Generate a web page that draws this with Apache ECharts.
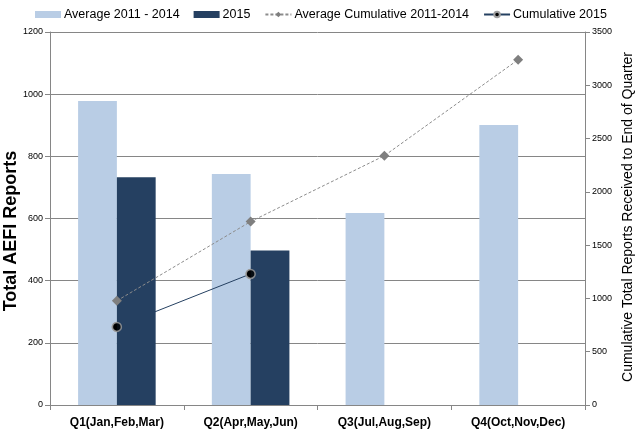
<!DOCTYPE html>
<html><head><meta charset="utf-8">
<script src="https://cdn.jsdelivr.net/npm/echarts@6/dist/echarts.min.js"></script>
<style>html,body{margin:0;padding:0;background:#fff}#c{width:638px;height:429px}</style>
</head><body><div id="c"></div>
<script>
var categories = ['Q1(Jan,Feb,Mar)', 'Q2(Apr,May,Jun)', 'Q3(Jul,Aug,Sep)', 'Q4(Oct,Nov,Dec)'];
var avg20112014 = [978, 743, 618, 901];
var y2015 = [733, 497, null, null];
var avgCumulative = [978, 1721, 2339, 3240];
var cumulative2015 = [733, 1230, null, null];
var leftTicks = [0, 200, 400, 600, 800, 1000, 1200];
var rightTicks = [0, 500, 1000, 1500, 2000, 2500, 3000, 3500];

var chart = echarts.init(document.getElementById('c'));
var font = "'Liberation Sans', Arial, sans-serif";
var axisGray = '#868686';
chart.setOption({
  animation: false,
  legend: {
    top: 3, left: 30, itemGap: 14, itemWidth: 26, itemHeight: 7,
    textStyle: { fontFamily: font, fontSize: 12.5, color: '#000', padding: [0, 0, 0, -2] },
    data: [
      { name: 'Average 2011 - 2014', icon: 'rect' },
      { name: '2015', icon: 'rect' },
      { name: 'Average Cumulative 2011-2014' },
      { name: 'Cumulative 2015' }
    ]
  },
  grid: { left: 50, right: 53, top: 32, bottom: 23, containLabel: false },
  xAxis: {
    type: 'category', data: categories,
    axisLine: { lineStyle: { color: axisGray } },
    axisTick: { show: true, length: 5, lineStyle: { color: axisGray } },
    axisLabel: { fontFamily: font, fontSize: 12, fontWeight: 'bold', color: '#000', margin: 12 }
  },
  yAxis: [{
    type: 'value', min: 0, max: 1200, interval: 200,
    axisLine: { show: true, lineStyle: { color: axisGray } },
    axisTick: { show: true, length: 5, lineStyle: { color: axisGray } },
    axisLabel: { fontSize: 9, color: '#000', margin: 7,
      formatter: function (v) { return leftTicks.indexOf(v) >= 0 ? String(v) : ''; } },
    splitLine: { lineStyle: { color: axisGray, width: 1 } }
  }, {
    type: 'value', min: 0, max: 3500, interval: 500, position: 'right',
    axisLine: { show: true, lineStyle: { color: axisGray } },
    axisTick: { show: true, length: 5, lineStyle: { color: axisGray } },
    axisLabel: { fontSize: 9, color: '#000', margin: 7,
      formatter: function (v) { return rightTicks.indexOf(v) >= 0 ? String(v) : ''; } },
    splitLine: { show: false }
  }],
  series: [
    { name: 'Average 2011 - 2014', type: 'bar', data: avg20112014, barWidth: '29%', barGap: '0%', z: 1,
      itemStyle: { color: '#B9CDE5' } },
    { name: 'Cumulative 2015', type: 'line', yAxisIndex: 1, data: cumulative2015, z: 2,
      lineStyle: { color: '#254061', width: 1 }, symbol: 'circle', symbolSize: 9,
      itemStyle: { color: '#000', borderColor: '#a0a0a0', borderWidth: 1.5 } },
    { name: '2015', type: 'bar', data: y2015, barWidth: '29%', barGap: '0%', z: 3,
      itemStyle: { color: '#254061' } },
    { name: 'Average Cumulative 2011-2014', type: 'line', yAxisIndex: 1, data: avgCumulative, z: 4,
      lineStyle: { color: '#8c8c8c', width: 1, type: [3, 2] }, symbol: 'diamond', symbolSize: 10,
      itemStyle: { color: '#7f7f7f' } },
    { name: 'Cumulative 2015 markers', type: 'scatter', yAxisIndex: 1, data: cumulative2015, z: 5,
      symbol: 'circle', symbolSize: 9,
      itemStyle: { color: '#000', borderColor: '#a0a0a0', borderWidth: 1.5 } }
  ],
  graphic: [
    { type: 'text', x: 11, y: 231, rotation: Math.PI / 2,
      style: { text: 'Total AEFI Reports', fontFamily: font, fontSize: 18, fontWeight: 'bold',
        fill: '#000', align: 'center', verticalAlign: 'middle' } },
    { type: 'text', x: 628, y: 217, rotation: Math.PI / 2,
      style: { text: 'Cumulative Total Reports Received to End of Quarter', fontFamily: font, fontSize: 14,
        fill: '#000', align: 'center', verticalAlign: 'middle' } }
  ]
});
</script></body></html>
